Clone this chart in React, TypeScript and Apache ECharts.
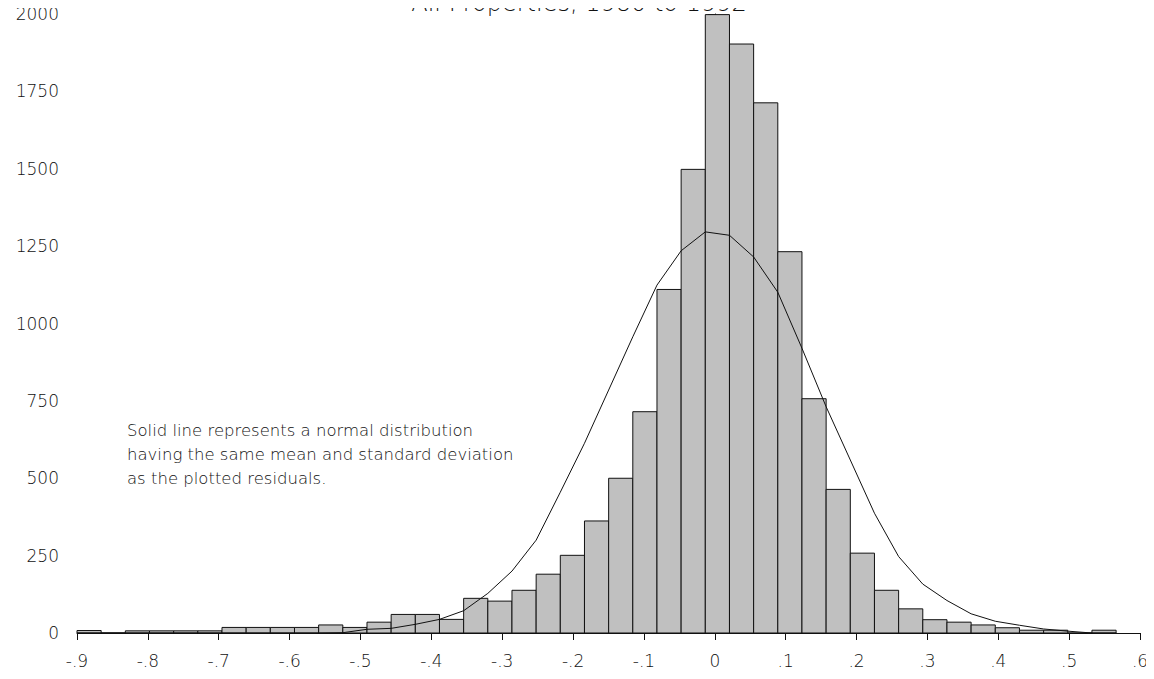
import React, { useEffect, useRef } from "react";
import * as echarts from "echarts";

// Histogram of residuals: bins start at -0.9, 43 equal bins
const binStart = -0.9;
const binWidth = 0.0341;
const counts = [
  8, 0, 7, 7, 7, 7, 18, 18, 18, 18,
  26, 18, 35, 60, 60, 44, 112, 103, 138, 190,
  251, 362, 500, 715, 1110, 1498, 1998, 1903, 1713, 1232,
  757, 464, 258, 138, 78, 43, 35, 26, 17, 9,
  9, 0, 9,
];
// Normal curve read at each bin edge (44 edges)
const curveValues = [
  0, 0, 0, 0, 0, 0, 0, 0, 0, 0,
  0, 1, 12, 15, 28, 44, 72, 128, 200, 300,
  455, 613, 785, 957, 1124, 1235, 1296, 1285, 1215, 1101,
  920, 731, 559, 387, 247, 158, 105, 62, 38, 25,
  13, 6, 0, 0,
];
const xTicks = { min: -0.9, max: 0.6, interval: 0.1 };
const yTicks = { min: 0, max: 2000, interval: 250 };
const titleText = "All Properties, 1980 to 1992";
const noteLines = [
  "Solid line represents a normal distribution",
  "having the same mean and standard deviation",
  "as the plotted residuals.",
];

const FONT = "'DejaVu Sans', 'Open Sans', sans-serif";

export default function App() {
  const ref = useRef<HTMLDivElement>(null);
  useEffect(() => {
    if (!ref.current) return;
    const chart = echarts.init(ref.current, undefined, { renderer: "svg" });
    const barData = counts.map((c, i) => [
      binStart + i * binWidth,
      binStart + (i + 1) * binWidth,
      c,
    ]);
    const curveData = curveValues.map((v, i) => [binStart + i * binWidth, v]);
    const fmtX = (v: number) => {
      const r = Math.round(v * 10);
      if (r === 0) return "0";
      return (r < 0 ? "-" : "") + "." + Math.abs(r);
    };
    chart.setOption({
      animation: false,
      backgroundColor: "#ffffff",
      grid: { left: 77, right: 14, top: 14, bottom: 46 },
      xAxis: {
        type: "value",
        min: xTicks.min,
        max: xTicks.max,
        interval: xTicks.interval,
        axisLine: { show: true, lineStyle: { color: "#111", width: 1 } },
        axisTick: { show: true, length: 7, lineStyle: { color: "#111" } },
        splitLine: { show: false },
        axisLabel: {
          formatter: fmtX,
          color: "#111",
          fontSize: 17,
          fontFamily: FONT,
          fontWeight: 200,
          margin: 19,
        },
      },
      yAxis: {
        type: "value",
        min: yTicks.min,
        max: yTicks.max,
        interval: yTicks.interval,
        axisLine: { show: true, lineStyle: { color: "#111", width: 1 } },
        axisTick: { show: true, length: 7, lineStyle: { color: "#111" } },
        splitLine: { show: false },
        axisLabel: {
          formatter: (v: number) => String(v),
          color: "#111",
          fontSize: 17,
          fontFamily: FONT,
          fontWeight: 200,
          margin: 18,
        },
      },
      series: [
        {
          type: "custom",
          data: barData,
          encode: { x: [0, 1], y: 2 },
          renderItem: (params: any, api: any) => {
            const x0 = api.value(0);
            const x1 = api.value(1);
            const c = api.value(2);
            const p0 = api.coord([x0, c]);
            const p1 = api.coord([x1, 0]);
            return {
              type: "rect",
              shape: { x: p0[0], y: p0[1], width: p1[0] - p0[0], height: p1[1] - p0[1] },
              style: { fill: "#c0c0c0", stroke: "#111", lineWidth: 1 },
            };
          },
          z: 2,
        },
        {
          type: "line",
          data: curveData,
          showSymbol: false,
          symbol: "none",
          smooth: false,
          lineStyle: { color: "#111", width: 1 },
          z: 3,
        },
      ],
      graphic: [
        {
          type: "text",
          x: 579,
          y: 15,
          style: {
            text: titleText,
            textAlign: "center",
            textVerticalAlign: "bottom",
            fontSize: 24,
            fontFamily: FONT,
            fontWeight: 200,
            fill: "#111",
          },
        },
        {
          type: "text",
          x: 127,
          y: 418,
          style: {
            text: noteLines.join("\n"),
            textAlign: "left",
            textVerticalAlign: "top",
            fontSize: 16.5,
            lineHeight: 24,
            fontFamily: FONT,
            fontWeight: 200,
            fill: "#111",
          },
        },
      ],
    });
    return () => chart.dispose();
  }, []);
  return <div ref={ref} style={{ width: 1154, height: 679, margin: -8 }} />;
}
